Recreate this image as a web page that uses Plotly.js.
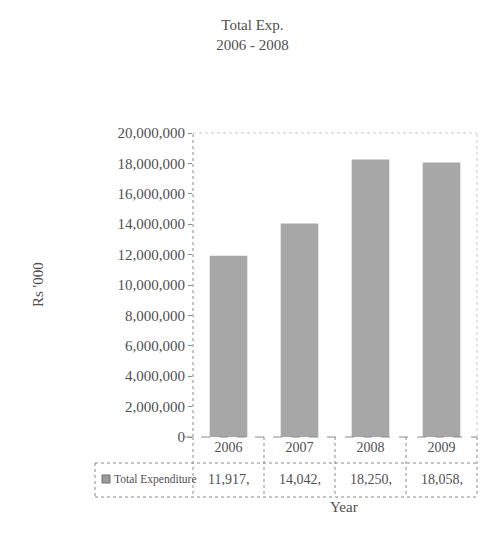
<!DOCTYPE html>
<html>
<head>
<meta charset="utf-8">
<script src="https://cdn.plot.ly/plotly-3.0.1.min.js"></script>
<style>
  html, body { margin: 0; padding: 0; background: #ffffff; }
  #chart { width: 495px; height: 542px; }
</style>
</head>
<body>
<div id="chart"></div>
<script>
// Total expenditure per year, in Rs '000
const years = ['2006', '2007', '2008', '2009'];
const totalExpenditure = [11917000, 14042000, 18250000, 18058000];
const yTickValues = [0, 2000000, 4000000, 6000000, 8000000, 10000000,
                     12000000, 14000000, 16000000, 18000000, 20000000];
const seriesName = 'Total Expenditure';

const FONT = 'Liberation Serif, Times New Roman, serif';
const TEXT = '#505050';
const LINE = '#8a8a8a';

// Data-table cells are narrow, so the printed figures are clipped
const cellText = totalExpenditure.map(v => v.toLocaleString('en-US').slice(0, 7));

const bars = {
  type: 'bar',
  x: years,
  y: totalExpenditure,
  name: seriesName,
  width: 0.53,
  marker: {
    color: '#a7a7a7',
    line: { width: 0 }
  },
  hoverinfo: 'x+y',
  showlegend: false
};

// table geometry in paper units (plot area 284 x 304 px)
const rowSplit = -26 / 304;
const tableBottom = -60 / 304;
const keyLeft = -98 / 284;
const n = years.length;

const dotted = { color: LINE, width: 1, dash: 'dot' };
const shapes = [
  // axis lines and frame
  { type: 'line', xref: 'paper', yref: 'paper', x0: 0, x1: 0, y0: 0, y1: 1, line: dotted },
  { type: 'line', xref: 'paper', yref: 'paper', x0: -0.035, x1: 1, y0: 0, y1: 0, line: { color: LINE, width: 1, dash: 'dash' } },
  { type: 'line', xref: 'paper', yref: 'paper', x0: 0, x1: 1, y0: 1, y1: 1, line: { color: '#cccccc', width: 1, dash: 'dot' } },
  { type: 'line', xref: 'paper', yref: 'paper', x0: 1, x1: 1, y0: 0, y1: 1, line: { color: '#cccccc', width: 1, dash: 'dot' } },
  // data table
  { type: 'line', xref: 'paper', yref: 'paper', x0: keyLeft, x1: 1, y0: rowSplit, y1: rowSplit, line: dotted },
  { type: 'line', xref: 'paper', yref: 'paper', x0: keyLeft, x1: 1, y0: tableBottom, y1: tableBottom, line: dotted },
  { type: 'line', xref: 'paper', yref: 'paper', x0: keyLeft, x1: keyLeft, y0: rowSplit, y1: tableBottom, line: dotted },
  { type: 'line', xref: 'paper', yref: 'paper', x0: 0, x1: 0, y0: 0, y1: tableBottom, line: dotted },
  { type: 'line', xref: 'paper', yref: 'paper', x0: 1, x1: 1, y0: 0, y1: tableBottom, line: dotted },
  // legend key swatch
  { type: 'rect', xref: 'paper', yref: 'paper', x0: -91 / 284, x1: -83 / 284, y0: -38 / 304, y1: -46 / 304,
    fillcolor: '#9a9a9a', line: { color: '#6f6f6f', width: 1 } }
];
// cell separators between years
for (let i = 1; i < n; i++) {
  shapes.push({ type: 'line', xref: 'paper', yref: 'paper', x0: i / n, x1: i / n, y0: 0, y1: tableBottom, line: dotted });
}

const annotations = [
  { text: seriesName, xref: 'paper', yref: 'paper', x: -81 / 284, y: -42 / 304, xanchor: 'left', yanchor: 'middle',
    showarrow: false, font: { family: FONT, size: 11.5, color: TEXT } },
  { text: 'Year', xref: 'paper', yref: 'paper', x: 0.53, y: -70 / 304, xanchor: 'center', yanchor: 'middle',
    showarrow: false, font: { family: FONT, size: 15, color: TEXT } },
  { text: "Rs '000", xref: 'paper', yref: 'paper', x: -155 / 284, y: 0.5, xanchor: 'center', yanchor: 'middle',
    textangle: -90, showarrow: false, font: { family: FONT, size: 15, color: TEXT } }
];
years.forEach((yr, i) => {
  annotations.push({ text: cellText[i], xref: 'paper', yref: 'paper', x: (i + 0.5) / n, y: -42 / 304,
    xanchor: 'center', yanchor: 'middle', showarrow: false, font: { family: FONT, size: 14, color: TEXT } });
});

const layout = {
  width: 495,
  height: 542,
  paper_bgcolor: '#ffffff',
  plot_bgcolor: '#ffffff',
  margin: { l: 193, r: 18, t: 133, b: 105, pad: 0 },
  font: { family: FONT, size: 15, color: TEXT },
  title: {
    text: 'Total Exp.<br>2006 - 2008',
    x: 0.51, xref: 'container', xanchor: 'center',
    y: 1 - 30 / 542, yref: 'container', yanchor: 'top',
    font: { family: FONT, size: 15, color: TEXT }
  },
  xaxis: {
    type: 'category',
    categoryorder: 'array',
    categoryarray: years,
    range: [-0.5, n - 0.5],
    showgrid: false,
    zeroline: false,
    showline: false,
    ticks: '',
    tickfont: { family: FONT, size: 14, color: TEXT },
    fixedrange: true
  },
  yaxis: {
    range: [0, 20000000],
    tickvals: yTickValues,
    tickformat: ',d',
    ticks: 'outside',
    ticklen: 4,
    tickcolor: LINE,
    showgrid: false,
    zeroline: false,
    showline: false,
    tickfont: { family: FONT, size: 15, color: TEXT },
    fixedrange: true
  },
  bargap: 0.47,
  shapes: shapes,
  annotations: annotations
};

Plotly.newPlot('chart', [bars], layout, { displayModeBar: false, staticPlot: true });
</script>
</body>
</html>
